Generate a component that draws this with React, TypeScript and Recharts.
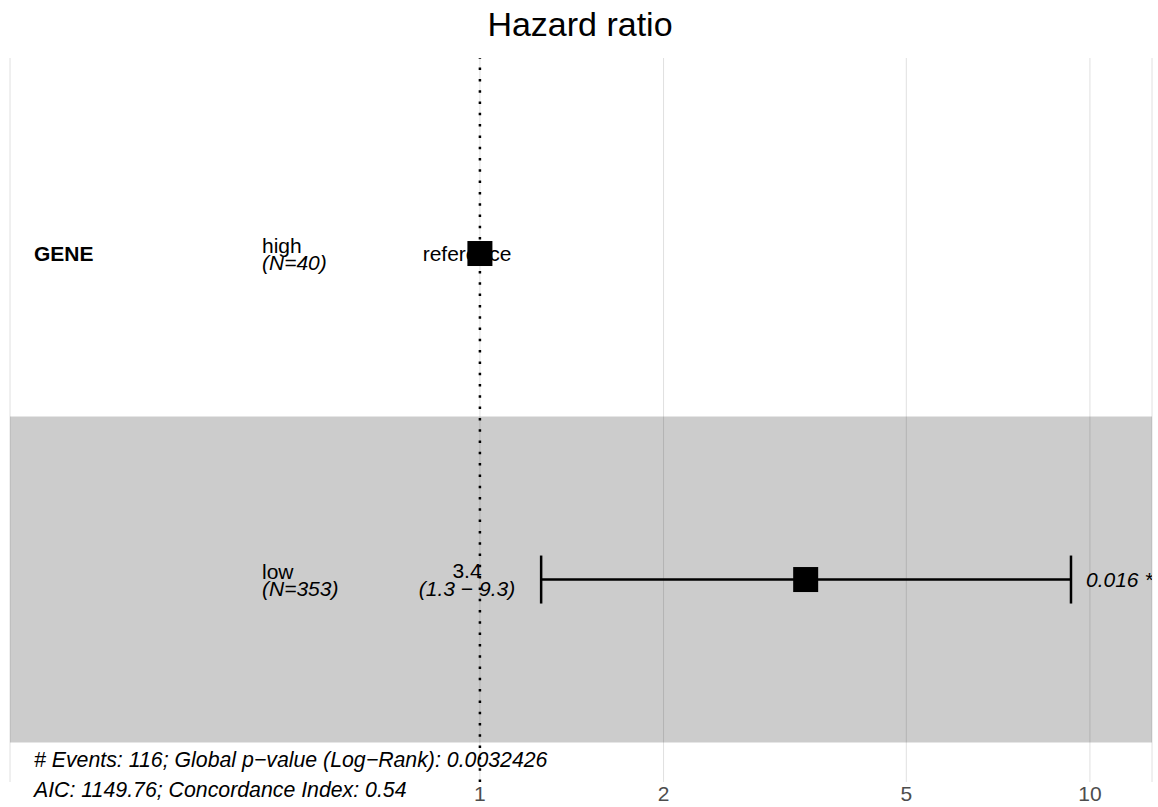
import React from "react";
import {
  ComposedChart,
  Scatter,
  XAxis,
  YAxis,
  CartesianGrid,
  ReferenceArea,
  ReferenceLine,
  ErrorBar,
} from "recharts";

// ---- data ----
const variableName = "GENE";
const levels = ["high", "low"];
const nPerLevel = [40, 353];
const hazardRatios = [1, 3.42];
const ciLower: (number | null)[] = [null, 1.26];
const ciUpper: (number | null)[] = [null, 9.31];
const pValues: (number | null)[] = [null, 0.016];
const rowPositions = [2, 1];
const xTicks = [1, 2, 5, 10];
const nEvents = 116;
const globalP = "0.0032426";
const aicValue = "1149.76";
const concordance = "0.54";

const rows = levels.map((level, i) => ({
  level,
  n: nPerLevel[i],
  hr: hazardRatios[i],
  lo: ciLower[i],
  hi: ciUpper[i],
  p: pValues[i],
  pos: rowPositions[i],
  isRef: ciLower[i] == null,
  err:
    ciLower[i] != null
      ? [hazardRatios[i] - (ciLower[i] as number), (ciUpper[i] as number) - hazardRatios[i]]
      : undefined,
}));
const refRows = rows.filter((r) => r.isRef);
const estRows = rows.filter((r) => !r.isRef);
const shadedRows = rows.filter((_, i) => i % 2 === 1);

// ---- layout ----
const W = 1158;
const H = 807;
const FONT = "'Liberation Sans', Arial, Helvetica, sans-serif";
const COL_VAR = 34;
const COL_LEVEL = 262;
const COL_HR = 467;
const COL_P = 1086;
const SQ = 25;

const stars = (p: number) => (p < 0.001 ? " ***" : p < 0.01 ? " **" : p < 0.05 ? " *" : "");

const LabelShape = (props: any) => {
  const { cy, payload } = props;
  if (cy == null || !payload) return null;
  const first = payload.level === levels[0];
  return (
    <g fontFamily={FONT} fontSize={21} fill="#000">
      {first && (
        <text x={COL_VAR} y={cy + 7} fontWeight="bold">
          {variableName}
        </text>
      )}
      <text x={COL_LEVEL} y={cy - 1}>{payload.level}</text>
      <text x={COL_LEVEL} y={cy + 16} fontStyle="italic">{`(N=${payload.n})`}</text>
      {payload.isRef ? (
        <text x={COL_HR} y={cy + 7} textAnchor="middle">reference</text>
      ) : (
        <>
          <text x={COL_HR} y={cy - 2} textAnchor="middle">{payload.hr.toFixed(1)}</text>
          <text x={COL_HR} y={cy + 16} textAnchor="middle" fontStyle="italic">
            {`(${payload.lo.toFixed(1)} \u2212 ${payload.hi.toFixed(1)})`}
          </text>
        </>
      )}
      {payload.p != null && (
        <text x={COL_P} y={cy + 7} fontStyle="italic">
          {`${payload.p}${stars(payload.p)}`}
        </text>
      )}
    </g>
  );
};

const SquareShape = (props: any) => {
  const { cx, cy } = props;
  if (cx == null || cy == null) return null;
  return <rect x={cx - SQ / 2} y={cy - SQ / 2} width={SQ} height={SQ} fill="#000" />;
};

const TickLabel = (props: any) => {
  const { x, y, payload } = props;
  return (
    <text x={x} y={y + 19} textAnchor="middle" fontFamily={FONT} fontSize={21} fill="#4d4d4d">
      {payload.value}
    </text>
  );
};

export default function App() {
  return (
    <div style={{ position: "absolute", left: 0, top: 0, width: W, height: H, background: "#fff" }}>
      <ComposedChart
        width={W}
        height={H}
        data={rows}
        margin={{ top: 58, right: 6, left: 10, bottom: 0 }}
      >
        <CartesianGrid horizontal={false} stroke="#e0e0e0" strokeWidth={1} />
        <XAxis
          dataKey="hr"
          type="number"
          scale="log"
          domain={[0.1697, 12.64]}
          allowDataOverflow
          ticks={xTicks}
          axisLine={false}
          tickLine={false}
          tickSize={0}
          tickMargin={0}
          height={25}
          interval={0}
          tick={<TickLabel />}
        />
        <YAxis dataKey="pos" type="number" domain={[0.379, 2.5997]} allowDataOverflow hide />
        {shadedRows.map((r) => (
          <ReferenceArea
            key={r.level}
            y1={r.pos - 0.5}
            y2={r.pos + 0.5}
            fill="#000"
            fillOpacity={0.2}
            stroke="none"
            ifOverflow="visible"
          />
        ))}
        <ReferenceLine x={1} stroke="#000" strokeWidth={2.5} strokeDasharray="2.5 8.8" />
        <Scatter data={rows} dataKey="hr" shape={<LabelShape />} isAnimationActive={false} />
        <Scatter data={estRows} dataKey="hr" shape={<SquareShape />} isAnimationActive={false}>
          <ErrorBar dataKey="err" direction="x" width={24} strokeWidth={2.5} stroke="#000" />
        </Scatter>
        <Scatter data={refRows} dataKey="hr" shape={<SquareShape />} isAnimationActive={false} />
      </ComposedChart>
      <svg
        width={W}
        height={H}
        style={{ position: "absolute", left: 0, top: 0, pointerEvents: "none" }}
      >
        <text x={580} y={36} textAnchor="middle" fontFamily={FONT} fontSize={34} fill="#000">
          Hazard ratio
        </text>
        <g fontFamily={FONT} fontSize={21.3} fontStyle="italic" fill="#000">
          <text x={COL_VAR} y={767}>
            {`# Events: ${nEvents}; Global p\u2212value (Log\u2212Rank): ${globalP}`}
          </text>
          <text x={COL_VAR} y={797}>
            {`AIC: ${aicValue}; Concordance Index: ${concordance}`}
          </text>
        </g>
      </svg>
    </div>
  );
}
